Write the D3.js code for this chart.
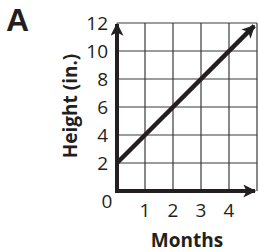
<!DOCTYPE html>
<html lang="en">
<head>
  <meta charset="UTF-8">
  <title>Height vs Months</title>
  <style>
    html, body { margin: 0; background: #fff; }
    svg { display: block; }
  </style>
</head>
<body>
  <script src="https://d3js.org/d3.v7.min.js"></script>
  <script>
    const xTicks = [1, 2, 3, 4];
    const yTicks = [2, 4, 6, 8, 10, 12];
    const gridX = [0, 1, 2, 3, 4, 5];
    const gridY = [0, 2, 4, 6, 8, 10, 12];
    const linePts = [{ m: 0, h: 2 }, { m: 4.9, h: 11.8 }];

    const W = 258, H = 252;
    const ink = "#231f20";

    const svg = d3.select("body").append("svg")
      .attr("width", W)
      .attr("height", H);

    const x = d3.scaleLinear().domain([0, 5]).range([117, 257]);
    const y = d3.scaleLinear().domain([0, 12]).range([191, 23]);

    // arrowheads
    const defs = svg.append("defs");
    defs.append("marker")
      .attr("id", "arr")
      .attr("viewBox", "0 0 10 10")
      .attr("refX", 9)
      .attr("refY", 5)
      .attr("markerWidth", 14)
      .attr("markerHeight", 13)
      .attr("markerUnits", "userSpaceOnUse")
      .attr("orient", "auto")
      .append("path")
      .attr("d", "M0,0 L10,5 L0,10 L2.5,5 Z")
      .attr("fill", ink);

    // grid
    svg.append("g").selectAll("line").data(gridX.slice(1)).join("line")
      .attr("x1", d => x(d)).attr("x2", d => x(d))
      .attr("y1", y(12)).attr("y2", y(0))
      .attr("stroke", "#3a3a3a").attr("stroke-width", 1.2);
    svg.append("g").selectAll("line").data(gridY.slice(1)).join("line")
      .attr("x1", x(0)).attr("x2", x(5))
      .attr("y1", d => y(d)).attr("y2", d => y(d))
      .attr("stroke", "#3a3a3a").attr("stroke-width", 1.2);

    // axes
    svg.append("line")
      .attr("x1", x(0)).attr("y1", y(0))
      .attr("x2", x(0)).attr("y2", y(12) + 1)
      .attr("stroke", ink).attr("stroke-width", 4)
      .attr("marker-end", "url(#arr)");
    svg.append("line")
      .attr("x1", x(0) - 2).attr("y1", y(0))
      .attr("x2", 255).attr("y2", y(0))
      .attr("stroke", ink).attr("stroke-width", 4)
      .attr("marker-end", "url(#arr)");

    // data line
    svg.append("path")
      .datum(linePts)
      .attr("d", d3.line().x(d => x(d.m)).y(d => y(d.h)))
      .attr("fill", "none")
      .attr("stroke", ink)
      .attr("stroke-width", 4.5)
      .attr("marker-end", "url(#arr)");

    const font = "'Open Sans', 'Liberation Sans', sans-serif";

    // y tick labels
    svg.append("g").selectAll("text").data(yTicks).join("text")
      .attr("x", 108)
      .attr("y", d => y(d))
      .attr("dy", "0.36em")
      .attr("text-anchor", "end")
      .attr("font-family", font)
      .attr("font-size", 19)
      .attr("fill", ink)
      .text(d => d);

    svg.append("text")
      .attr("x", 107).attr("y", 201)
      .attr("dy", "0.36em")
      .attr("text-anchor", "middle")
      .attr("font-family", font)
      .attr("font-size", 19)
      .attr("fill", ink)
      .text("0");

    // x tick labels
    svg.append("g").selectAll("text").data(xTicks).join("text")
      .attr("x", d => x(d))
      .attr("y", 217)
      .attr("text-anchor", "middle")
      .attr("font-family", font)
      .attr("font-size", 19)
      .attr("fill", ink)
      .text(d => d);

    // axis titles
    svg.append("text")
      .attr("x", 187).attr("y", 247)
      .attr("text-anchor", "middle")
      .attr("font-family", font)
      .attr("font-weight", "bold")
      .attr("font-size", 19)
      .attr("fill", ink)
      .text("Months");

    svg.append("text")
      .attr("transform", "translate(77,106) rotate(-90)")
      .attr("text-anchor", "middle")
      .attr("font-family", font)
      .attr("font-weight", "bold")
      .attr("font-size", 19)
      .attr("fill", ink)
      .text("Height (in.)");

    svg.append("text")
      .attr("x", 6).attr("y", 31)
      .attr("font-family", "'Liberation Sans', Arial, sans-serif")
      .attr("font-weight", "bold")
      .attr("font-size", 32)
      .attr("fill", ink)
      .text("A");
  </script>
</body>
</html>
